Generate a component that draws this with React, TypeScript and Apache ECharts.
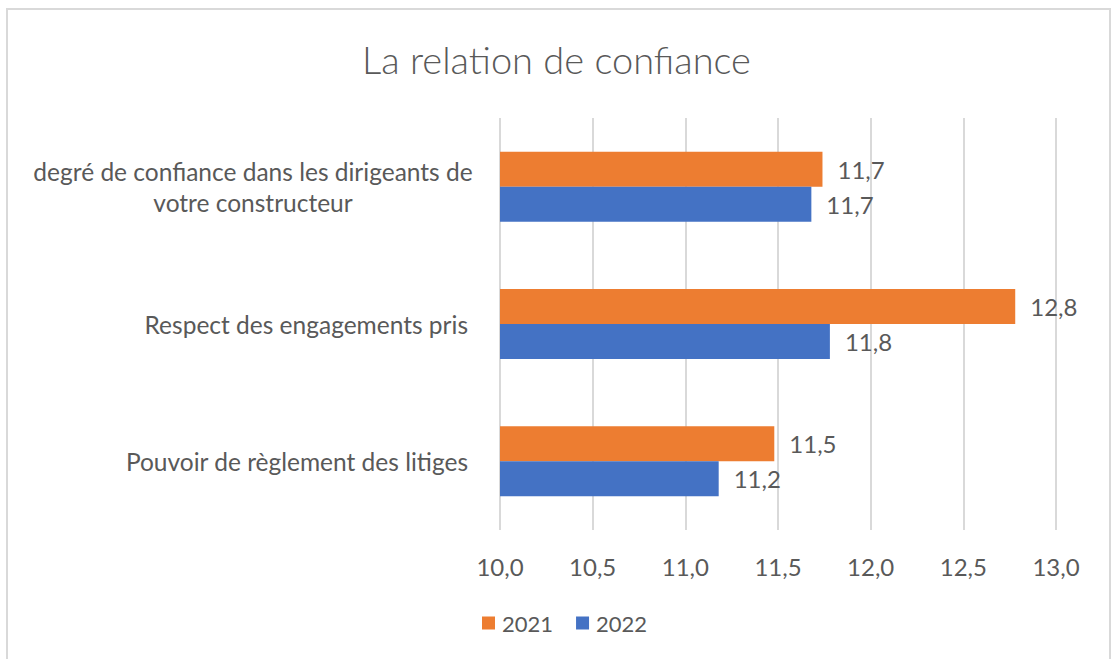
import React, { useEffect, useRef } from "react";
import * as echarts from "echarts";

const title = "La relation de confiance";
const categories = [
  "degré de confiance dans les dirigeants de\nvotre constructeur",
  "Respect des engagements pris",
  "Pouvoir de règlement des litiges",
];
const seriesNames = ["2021", "2022"];
const values2021 = [11.74, 12.78, 11.48];
const values2022 = [11.68, 11.78, 11.18];
const axisMin = 10;
const axisMax = 13;
const axisStep = 0.5;

const TEXT = "#595959";
const FONT = "Lato, 'Noto Sans', sans-serif";
const fmt = (v: number) => v.toFixed(1).replace(".", ",");

export default function App() {
  const ref = useRef<HTMLDivElement>(null);
  useEffect(() => {
    if (!ref.current) return;
    const chart = echarts.init(ref.current, null, { renderer: "svg" });
    chart.setOption({
      animation: false,
      backgroundColor: "#ffffff",
      textStyle: { fontFamily: FONT },
      title: {
        text: title,
        left: "center",
        top: 35,
        textStyle: { fontFamily: FONT, fontSize: 38, fontWeight: 300, color: TEXT },
      },
      graphic: [
        {
          type: "rect",
          shape: { x: 7, y: 9, width: 1103, height: 700 },
          style: { fill: "none", stroke: "#d9d9d9", lineWidth: 2 },
          silent: true,
        },
      ],
      legend: {
        data: seriesNames,
        left: 477,
        top: 607,
        icon: "rect",
        itemWidth: 13,
        itemHeight: 13,
        itemGap: 23,
        textStyle: { fontFamily: FONT, fontSize: 22, color: TEXT, padding: [0, 0, 0, 2] },
      },
      grid: { left: 500, right: 57, top: 118, bottom: 129, containLabel: false },
      xAxis: {
        type: "value",
        min: axisMin,
        max: axisMax,
        interval: axisStep,
        axisLine: { show: false },
        axisTick: { show: false },
        splitLine: { lineStyle: { color: "#d9d9d9", width: 2 } },
        axisLabel: {
          formatter: (v: number) => fmt(v),
          fontFamily: FONT,
          fontSize: 24,
          color: TEXT,
          margin: 24,
        },
      },
      yAxis: {
        type: "category",
        data: categories,
        inverse: true,
        axisLine: { show: false },
        axisTick: { show: false },
        axisLabel: {
          fontFamily: FONT,
          fontSize: 24.5,
          color: TEXT,
          margin: 32,
          lineHeight: 31,
          formatter: (v: string) =>
            v.includes("\n") ? v.split("\n").map((l) => `{c|${l}}`).join("\n") : v,
          rich: {
            c: { width: 430, align: "center", fontFamily: FONT, fontSize: 24.5, color: TEXT, lineHeight: 31 },
          },
        },
      },
      series: [
        {
          name: seriesNames[0],
          type: "bar",
          data: values2021,
          barWidth: 35,
          barGap: "0%",
          itemStyle: { color: "#ED7D31" },
          label: {
            show: true,
            position: "right",
            distance: 15,
            formatter: (p: any) => fmt(p.value),
            fontFamily: FONT,
            fontSize: 24,
            color: TEXT,
          },
        },
        {
          name: seriesNames[1],
          type: "bar",
          data: values2022,
          barWidth: 35,
          barGap: "0%",
          itemStyle: { color: "#4472C4" },
          label: {
            show: true,
            position: "right",
            distance: 15,
            formatter: (p: any) => fmt(p.value),
            fontFamily: FONT,
            fontSize: 24,
            color: TEXT,
          },
        },
      ],
    });
    return () => chart.dispose();
  }, []);
  return (
    <div
      ref={ref}
      style={{ position: "fixed", left: 0, top: 0, width: 1113, height: 659, background: "#fff" }}
    />
  );
}
